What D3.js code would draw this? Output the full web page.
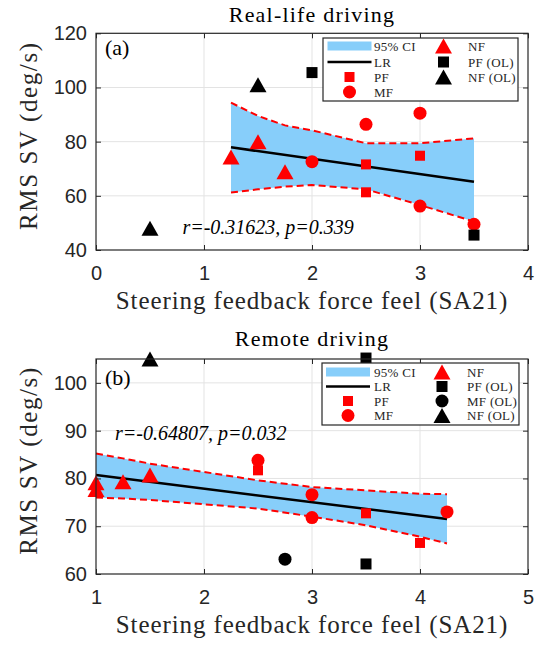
<!DOCTYPE html>
<html>
<head>
<meta charset="utf-8">
<script src="https://cdn.jsdelivr.net/npm/d3@7"></script>
<style>body{margin:0;background:#fff}</style>
</head>
<body>
<svg id="chart" width="545" height="645"></svg>
<script>
// Real-life driving (panel a): [SA21, RMS SV]
const realNF   = [[1.25, 74.3], [1.5, 80.0], [1.75, 68.9]];
const realPF   = [[2.5, 71.6], [2.5, 61.3], [3, 74.8]];
const realMF   = [[2, 72.6], [2.5, 86.4], [3, 90.5], [3, 56.2], [3.5, 49.5]];
const realPFOL = [[2, 105.5], [3.5, 45.5]];
const realNFOL = [[1.5, 101.0], [0.5, 48.0]];
const realCIx  = [1.25, 1.5, 1.75, 2, 2.5, 3, 3.5];
const realCIup = [94.4, 89.5, 86.0, 84.2, 79.4, 79.4, 81.2];
const realCIlo = [61.2, 62.4, 63.4, 64.0, 62.4, 56.6, 50.5];
const realLR   = [[1.25, 77.9], [3.5, 65.2]];

// Remote driving (panel b)
const remNF   = [[1, 79.1], [1, 77.7], [1.25, 79.3], [1.5, 80.7]];
const remPF   = [[2.5, 81.7], [3.5, 72.7], [4, 66.5]];
const remMF   = [[2.5, 83.8], [3, 76.6], [3, 71.8], [4.25, 73.0]];
const remPFOL = [[3.5, 105.2], [3.5, 62.1]];
const remMFOL = [[2.75, 63.1]];
const remNFOL = [[1.5, 105.0]];
const remCIx  = [1, 1.25, 1.5, 2.5, 3, 3.5, 4, 4.25];
const remCIup = [85.2, 84.2, 83.1, 79.6, 78.2, 77.5, 76.8, 76.7];
const remCIlo = [76.0, 75.8, 75.5, 73.7, 72.0, 70.2, 67.8, 66.4];
const remLR   = [[1, 80.7], [4.25, 71.5]];

const realXTicks = [0, 1, 2, 3, 4], realYTicks = [40, 60, 80, 100, 120];
const remXTicks = [1, 2, 3, 4, 5], remYTicks = [60, 70, 80, 90, 100];

const legendA = [["ci", "95% CI"], ["lr", "LR"], ["rsq", "PF"], ["rci", "MF"],
                 ["rtri", "NF"], ["ksq", "PF (OL)"], ["ktri", "NF (OL)"]];
const legendB = [["ci", "95% CI"], ["lr", "LR"], ["rsq", "PF"], ["rci", "MF"],
                 ["rtri", "NF"], ["ksq", "PF (OL)"], ["kci", "MF (OL)"], ["ktri", "NF (OL)"]];

const SERIF = "'Liberation Serif', 'Times New Roman', serif";
const SANS = "'Liberation Sans', Arial, sans-serif";
const AX = "#262626", GRID = "#e3e3e3", RED = "#ff0000", BLUE = "#87cefa";

const svg = d3.select("#chart");

function marker(g, type, cx, cy) {
    const col = type[0] == "r" ? RED : "#000";
    const kind = type.slice(1);
    if (kind == "tri") {
        g.append("path")
            .attr("d", `M${cx},${cy - 7.5}L${cx + 8.5},${cy + 7.5}L${cx - 8.5},${cy + 7.5}Z`)
            .attr("fill", col);
    } else if (kind == "sq") {
        const s = type[0] == "r" ? 10 : 11;
        g.append("rect").attr("x", cx - s / 2).attr("y", cy - s / 2)
            .attr("width", s).attr("height", s).attr("fill", col);
    } else {
        g.append("circle").attr("cx", cx).attr("cy", cy).attr("r", 6.5).attr("fill", col);
    }
}

function drawPanel(p) {
    const x = d3.scaleLinear().domain(p.xdom).range([p.left, p.right]);
    const y = d3.scaleLinear().domain(p.ydom).range([p.bottom, p.top]);
    const g = svg.append("g");

    // grid
    g.selectAll(".gx").data(p.xticks.slice(1, -1)).join("line")
        .attr("x1", d => x(d)).attr("x2", d => x(d))
        .attr("y1", p.top).attr("y2", p.bottom).attr("stroke", GRID);
    g.selectAll(".gy").data(p.yticks.filter(d => d > p.ydom[0] && d < p.ydom[1])).join("line")
        .attr("y1", d => y(d)).attr("y2", d => y(d))
        .attr("x1", p.left).attr("x2", p.right).attr("stroke", GRID);

    // CI band
    const band = p.cix.map((d, i) => [d, p.ciup[i], p.cilo[i]]);
    g.append("path").datum(band)
        .attr("d", d3.area().x(d => x(d[0])).y0(d => y(d[2])).y1(d => y(d[1])))
        .attr("fill", BLUE);
    [1, 2].forEach(k => {
        g.append("path").datum(band)
            .attr("d", d3.line().x(d => x(d[0])).y(d => y(d[k])))
            .attr("fill", "none").attr("stroke", RED).attr("stroke-width", 2)
            .attr("stroke-dasharray", "7,4");
    });
    g.append("path").datum(p.lr)
        .attr("d", d3.line().x(d => x(d[0])).y(d => y(d[1])))
        .attr("stroke", "#000").attr("stroke-width", 2.5);

    // markers
    p.series.forEach(([type, pts]) => pts.forEach(d => marker(g, type, x(d[0]), y(d[1]))));

    // axes box + ticks
    const ax = svg.append("g");
    ax.append("rect").attr("x", p.left).attr("y", p.top)
        .attr("width", p.right - p.left).attr("height", p.bottom - p.top)
        .attr("fill", "none").attr("stroke", AX).attr("stroke-width", 1.2);
    const fmt = d3.format("d");
    const xa = ax.append("g").attr("transform", `translate(0,${p.bottom})`)
        .call(d3.axisBottom(x).tickValues(p.xticks).tickFormat(fmt).tickSizeInner(-5).tickSizeOuter(0).tickPadding(16));
    const xt = ax.append("g").attr("transform", `translate(0,${p.top})`)
        .call(d3.axisTop(x).tickValues(p.xticks).tickSizeInner(-5).tickSizeOuter(0).tickFormat(""));
    const ya = ax.append("g").attr("transform", `translate(${p.left},0)`)
        .call(d3.axisLeft(y).tickValues(p.yticks).tickFormat(fmt).tickSizeInner(-5).tickSizeOuter(0).tickPadding(9));
    const yr = ax.append("g").attr("transform", `translate(${p.right},0)`)
        .call(d3.axisRight(y).tickValues(p.yticks).tickSizeInner(-5).tickSizeOuter(0).tickFormat(""));
    [xa, xt, ya, yr].forEach(a => {
        a.select(".domain").remove();
        a.selectAll("line").attr("stroke", AX).attr("stroke-width", 1);
        a.selectAll("text").attr("font-family", SANS).attr("font-size", 20).attr("fill", AX);
    });

    // titles, labels
    svg.append("text").attr("x", (p.left + p.right) / 2).attr("y", p.titleY)
        .attr("text-anchor", "middle").attr("font-family", SERIF).attr("font-size", 22)
        .attr("letter-spacing", 1.2).text(p.title);
    svg.append("text").attr("x", (p.left + p.right) / 2).attr("y", p.bottom + 59)
        .attr("text-anchor", "middle").attr("font-family", SERIF).attr("font-size", 25)
        .attr("letter-spacing", 0.9).attr("fill", AX).text("Steering feedback force feel (SA21)");
    svg.append("text")
        .attr("transform", `translate(37,${(p.top + p.bottom) / 2 - 6}) rotate(-90)`)
        .attr("text-anchor", "middle").attr("font-family", SERIF).attr("font-size", 25)
        .attr("letter-spacing", 1.6).attr("fill", AX).text("RMS SV (deg/s)");
    svg.append("text").attr("x", p.left + 9).attr("y", p.tagY)
        .attr("font-family", SERIF).attr("font-size", 22).text(p.tag);
    svg.append("text").attr("x", x(p.note[0])).attr("y", y(p.note[1]))
        .attr("dominant-baseline", "central")
        .attr("font-family", SERIF).attr("font-style", "italic").attr("font-size", 20)
        .text(p.note[2]);

    // legend
    const L = p.legend, lg = svg.append("g");
    lg.append("rect").attr("x", L.x0).attr("y", L.y0).attr("width", L.x1 - L.x0)
        .attr("height", L.y1 - L.y0).attr("fill", "#fff").attr("stroke", AX).attr("stroke-width", 1.2);
    p.entries.forEach(([type, label], i) => {
        const c = i < 4 ? 0 : 1, r = i < 4 ? i : i - 4;
        const cy = L.rows[r];
        const cx = L.icon[c];
        if (type == "ci") {
            lg.append("rect").attr("x", cx - 22).attr("y", cy - 4.5).attr("width", 44)
                .attr("height", 9).attr("fill", BLUE);
        } else if (type == "lr") {
            lg.append("line").attr("x1", cx - 22).attr("x2", cx + 22).attr("y1", cy).attr("y2", cy)
                .attr("stroke", "#000").attr("stroke-width", 2.5);
        } else {
            marker(lg, type, cx, cy);
        }
        lg.append("text").attr("x", L.text[c]).attr("y", cy).attr("dominant-baseline", "central")
            .attr("font-family", SERIF).attr("font-size", 13).attr("letter-spacing", 0.3)
            .attr("fill", AX).text(label);
    });
}

drawPanel({
    left: 96, right: 528, top: 33.3, bottom: 250,
    xdom: [0, 4], ydom: [40, 120], xticks: realXTicks, yticks: realYTicks,
    cix: realCIx, ciup: realCIup, cilo: realCIlo, lr: realLR,
    series: [["rtri", realNF], ["rsq", realPF], ["rci", realMF], ["ksq", realPFOL], ["ktri", realNFOL]],
    title: "Real-life driving", titleY: 22, tag: "(a)", tagY: 55,
    note: [0.8, 48.4, "r=-0.31623, p=0.339"],
    legend: { x0: 323, x1: 518, y0: 38, y1: 101, rows: [46, 62, 77, 92],
              icon: [349.5, 443.5], text: [374, 468] },
    entries: legendA
});

drawPanel({
    left: 96, right: 528, top: 359, bottom: 574,
    xdom: [1, 5], ydom: [60, 105], xticks: remXTicks, yticks: remYTicks,
    cix: remCIx, ciup: remCIup, cilo: remCIlo, lr: remLR,
    series: [["rtri", remNF], ["rsq", remPF], ["rci", remMF], ["ksq", remPFOL], ["kci", remMFOL], ["ktri", remNFOL]],
    title: "Remote driving", titleY: 346, tag: "(b)", tagY: 385,
    note: [1.176, 89.6, "r=-0.64807, p=0.032"],
    legend: { x0: 322, x1: 519, y0: 363, y1: 425, rows: [372, 386.5, 401, 415.5],
              icon: [348, 442], text: [374, 467] },
    entries: legendB
});
</script>
</body>
</html>
